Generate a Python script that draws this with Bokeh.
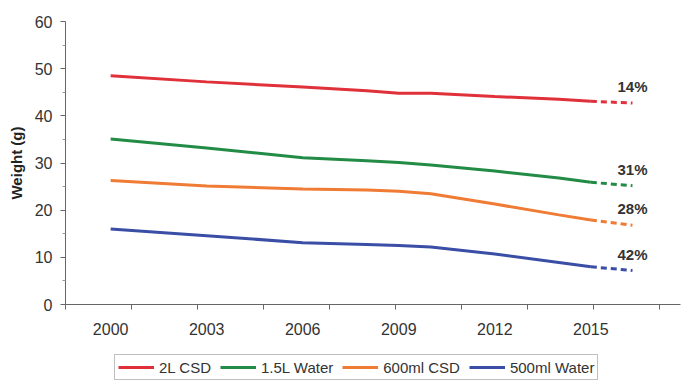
from bokeh.plotting import figure
from bokeh.layouts import column
from bokeh.models import FixedTicker, Legend, LegendItem, Range1d, ColumnDataSource
from bokeh.core.properties import value
from bokeh.embed import file_html
from bokeh.resources import INLINE

# ---- data ----
years = [2000, 2003, 2006, 2008, 2009, 2010, 2012, 2014, 2015]
csd_2l = [48.5, 47.2, 46.1, 45.3, 44.8, 44.8, 44.1, 43.5, 43.1]
water_15l = [35.1, 33.2, 31.1, 30.5, 30.1, 29.6, 28.3, 26.8, 25.9]
csd_600ml = [26.3, 25.1, 24.5, 24.3, 24.0, 23.5, 21.3, 19.0, 17.9]
water_500ml = [16.0, 14.6, 13.1, 12.7, 12.5, 12.2, 10.7, 8.9, 8.0]

proj_year = 2016.3
proj_values = [42.7, 25.2, 16.8, 7.2]
pct_labels = ["14%", "31%", "28%", "42%"]

series_names = ["2L CSD", "1.5L Water", "600ml CSD", "500ml Water"]
series_values = [csd_2l, water_15l, csd_600ml, water_500ml]
colors = ["#e0303a", "#228b45", "#ef7b35", "#3b4ea6"]

x_labels = [2000, 2003, 2006, 2009, 2012, 2015]
x_minor = [1998.59, 2000.65, 2002.71, 2004.77, 2006.83, 2008.89, 2010.95, 2013.01, 2015.07, 2017.13]

FONT = "Liberation Sans"

p = figure(width=682, height=345, output_backend="svg", toolbar_location=None,
           x_range=Range1d(1998.59, 2017.8), y_range=Range1d(0, 60),
           min_border_left=65, min_border_right=2, min_border_top=21,
           min_border_bottom=41)
p.outline_line_color = None
p.xgrid.visible = False
p.ygrid.visible = False

for name, vals, col, pv in zip(series_names, series_values, colors, proj_values):
    p.line(years, vals, line_color=col, line_width=3)
    p.line([years[-1], proj_year], [vals[-1], pv], line_color=col, line_width=3,
           line_dash="6 4")

src = ColumnDataSource(dict(x=[proj_year] * 4, y=proj_values, t=pct_labels))
p.text(x="x", y="y", text="t", source=src, text_font=value(FONT),
       text_font_style="bold", text_font_size="15px", text_color="#333333",
       text_align="center", text_baseline="bottom", y_offset=-8)

# axes
xa = p.xaxis[0]
xa.ticker = FixedTicker(ticks=x_labels, minor_ticks=x_minor)
xa.major_tick_line_color = None
xa.major_tick_out = 0
xa.major_tick_in = 0
xa.minor_tick_out = 5
xa.minor_tick_in = 0
xa.minor_tick_line_color = "#666666"
xa.axis_line_color = "#666666"
xa.major_label_standoff = 13
xa.major_label_text_font = FONT
xa.major_label_text_font_size = "16px"
xa.major_label_text_color = "#333333"

ya = p.yaxis[0]
ya.ticker = FixedTicker(ticks=[0, 10, 20, 30, 40, 50, 60],
                        minor_ticks=[5, 15, 25, 35, 45, 55])
ya.major_tick_out = 5
ya.major_tick_in = 0
ya.minor_tick_out = 3
ya.minor_tick_in = 0
ya.major_tick_line_color = "#666666"
ya.minor_tick_line_color = "#999999"
ya.axis_line_color = "#666666"
ya.major_label_standoff = 8
ya.major_label_text_font = FONT
ya.major_label_text_font_size = "16px"
ya.major_label_text_color = "#333333"
ya.axis_label = "Weight (g)"
ya.axis_label_text_font = FONT
ya.axis_label_text_font_size = "15px"
ya.axis_label_text_font_style = "bold"
ya.axis_label_text_color = "#222222"
ya.axis_label_standoff = 7

# legend strip (separate figure below the chart); its lines hold the real
# series but lie outside this strip's ranges, so only the legend shows
lg = figure(width=682, height=37, output_backend="svg", toolbar_location=None,
            x_range=Range1d(0, 1), y_range=Range1d(0, 1),
            x_axis_location=None, y_axis_location=None,
            min_border=0, min_border_left=0, min_border_right=0,
            min_border_top=0, min_border_bottom=0)
lg.xgrid.visible = False
lg.ygrid.visible = False
lg.outline_line_color = None
legend_renderers = [lg.line(years, vals, line_color=col, line_width=3)
                    for vals, col in zip(series_values, colors)]

legend = Legend(items=[LegendItem(label=n, renderers=[r]) for n, r in zip(series_names, legend_renderers)],
                orientation="horizontal", location=(49, 2),
                label_text_font=FONT, label_text_font_size="15px",
                label_text_color="#333333",
                glyph_width=36, glyph_height=18, label_height=18,
                label_standoff=5, spacing=9, padding=3, margin=0,
                border_line_color="#7f7f7f", border_line_width=1,
                background_fill_alpha=1.0)
lg.add_layout(legend, "center")

layout = column(p, lg, spacing=0)
open("out.html", "w").write(file_html(layout, INLINE))
